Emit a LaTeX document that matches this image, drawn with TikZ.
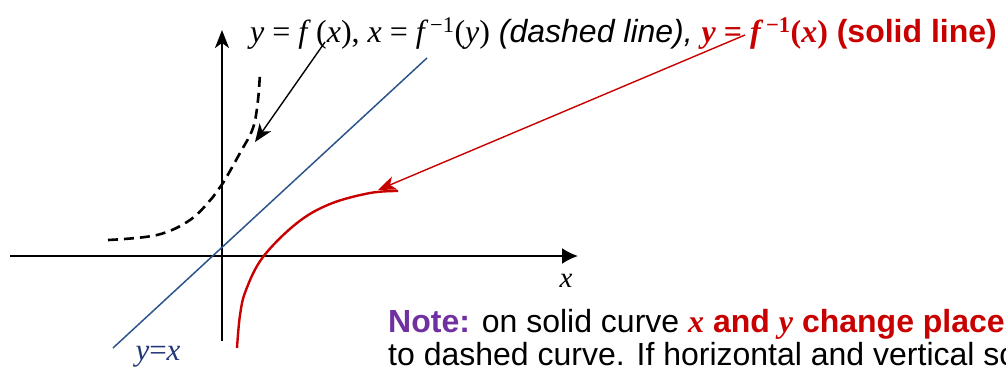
\documentclass[tikz,border=0pt]{standalone}
\usepackage{fontspec}
\setmainfont{Liberation Sans}
\newfontfamily\tms{Liberation Serif}
\usetikzlibrary{arrows.meta}
\definecolor{myred}{RGB}{200,0,0}
\definecolor{myblue}{RGB}{45,85,140}
\definecolor{mynavy}{RGB}{35,55,120}
\definecolor{mypurple}{RGB}{112,48,160}
\newcommand{\mi}[1]{{\tms\itshape #1}}
\newcommand{\mb}[1]{{\tms\itshape\bfseries #1}}
\begin{document}
\begin{tikzpicture}[x=1pt,y=-1pt,
  axis/.style={line width=2pt},
  pointer/.style={line width=1.4pt,-{Stealth[length=18pt,width=14pt,inset=5pt]}},
  txt/.style={inner sep=0pt,font=\fontsize{32}{33}\selectfont}]
\useasboundingbox (0,0) rectangle (1006,367);
\clip (0,0) rectangle (1006,367);
% axes
\coordinate (xs) at (10,256);
\coordinate (xe) at (578,256);
\coordinate (ys) at (222,341);
\coordinate (ye) at (222,30);
\draw[axis,-{Latex[length=16pt,width=16pt]}] (xs) -- (xe);
\draw[axis,-{Stealth[length=18pt,width=14pt,inset=5pt]}] (ys) -- (ye);
\node[txt,anchor=base,font=\fontsize{29}{30}\selectfont] (xl) at (566,287) {\mi{x}};
% y = x line
\coordinate (la) at (113,348);
\coordinate (lb) at (427,58);
\draw[myblue,line width=1.5pt] (la) -- (lb);
\node[txt,anchor=base,text=mynavy,font=\fontsize{31}{32}\selectfont] (yx) at (158,360) {\mi{y}{\tms =}\mi{x}};
% dashed curve
\draw[line width=2.6pt,dash pattern=on 10pt off 6pt] plot[smooth,tension=0.6] coordinates {(108,240) (157,235) (190,220) (213,197) (223,183) (240,153) (253,128) (258,100) (260,72)};
% solid red curve
\draw[myred,line width=2.4pt] plot[smooth,tension=0.6] coordinates {(237,348) (240,315) (246,290) (263,257) (297,223) (330,204) (370,193) (398,191)};
% top label
\node[txt,anchor=base west] (top) at (250,42) {{\tms\itshape y\upshape\ = \itshape f\;\upshape(\itshape x\upshape), \itshape x\upshape\ = \itshape f\,\upshape\textsuperscript{−1}(\itshape y\upshape)} \textit{(dashed line),} \textcolor{myred}{{\tms\bfseries\itshape y\upshape\ = \itshape f\,\upshape\textsuperscript{−1}(\itshape x\upshape)} \textbf{(solid line)}}};
% pointers
\coordinate (pa) at (325,42);
\coordinate (pb) at (255,142);
\draw[pointer] (pa) -- (pb);
\coordinate (ra) at (745,35);
\coordinate (rb) at (378,190);
\draw[pointer,myred] (ra) -- (rb);
% note
\node[txt,anchor=base west,align=left] (note) at (388,365) {\textcolor{mypurple}{\textbf{Note:}} on solid curve \textcolor{myred}{\mb{x} \textbf{and} \mb{y} \textbf{change places}}\\to dashed curve. If horizontal and vertical scales};
\end{tikzpicture}
\end{document}
